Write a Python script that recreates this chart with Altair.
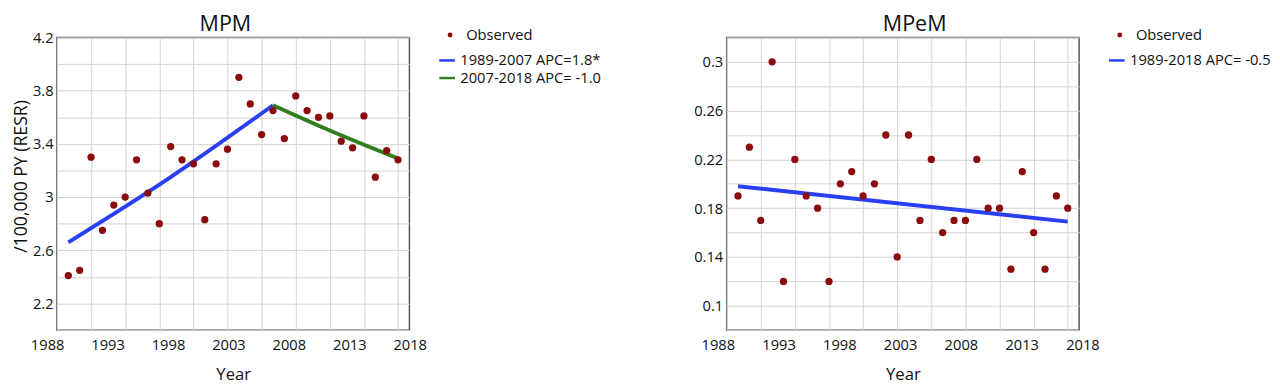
import altair as alt
import pandas as pd

# ---------------- data ----------------
years = list(range(1989, 2019))
mpm_observed = [2.41, 2.45, 3.30, 2.75, 2.94, 3.00, 3.28, 3.03, 2.80, 3.38,
                3.28, 3.25, 2.83, 3.25, 3.36, 3.90, 3.70, 3.47, 3.65, 3.44,
                3.76, 3.65, 3.60, 3.61, 3.42, 3.37, 3.61, 3.15, 3.35, 3.28]
mpem_observed = [0.19, 0.23, 0.17, 0.30, 0.12, 0.22, 0.19, 0.18, 0.12, 0.20,
                 0.21, 0.19, 0.20, 0.24, 0.14, 0.24, 0.17, 0.22, 0.16, 0.17,
                 0.17, 0.22, 0.18, 0.18, 0.13, 0.21, 0.16, 0.13, 0.19, 0.18]

mpm_seg_names = ["1989-2007 APC=1.8*", "2007-2018 APC= -1.0"]
mpm_seg1_years = [1989, 1998, 2007]
mpm_seg1_values = [2.66, 3.15, 3.69]
mpm_seg2_years = [2007, 2012, 2018]
mpm_seg2_values = [3.69, 3.50, 3.29]

mpem_seg_names = ["1989-2018 APC= -0.5"]
mpem_fit_years = [1989, 2018]
mpem_fit_values = [0.198, 0.169]

x_grid_years = list(range(1988, 2019, 3))
x_label_years = list(range(1988, 2019, 5))
x_axis_values = sorted(set(x_grid_years + x_label_years))
mpm_y_values = [2.0, 2.2, 2.4, 2.6, 2.8, 3.0, 3.2, 3.4, 3.6, 3.8, 4.0, 4.2]
mpem_y_values = [0.08, 0.10, 0.12, 0.14, 0.16, 0.18, 0.20, 0.22, 0.24, 0.26,
                 0.28, 0.30, 0.32]

RED = "#8B0A0C"
BLUE = "#2A3FF2"
GREEN = "#2F7D1C"
FONT = "Open Sans"

PLOT_H = 299

# ---------------- tables ----------------
mpm_pts = pd.DataFrame({"year": years, "value": mpm_observed, "series": "Observed"})
mpem_pts = pd.DataFrame({"year": years, "value": mpem_observed, "series": "Observed"})
mpm_lines = pd.concat([
    pd.DataFrame({"year": mpm_seg1_years, "value": mpm_seg1_values, "segment": mpm_seg_names[0]}),
    pd.DataFrame({"year": mpm_seg2_years, "value": mpm_seg2_values, "segment": mpm_seg_names[1]}),
])
mpem_lines = pd.DataFrame({"year": mpem_fit_years, "value": mpem_fit_values,
                           "segment": mpem_seg_names[0]})


def x_enc(offset_expr):
    return alt.X(
        "year:Q",
        scale=alt.Scale(domain=[1988, 2019], nice=False, zero=False),
        axis=alt.Axis(
            values=x_axis_values,
            format="d",
            labelExpr="(datum.value - 1988) % 5 == 0 ? datum.label : ''",
            labelOffset={"expr": offset_expr},
            labelFlush=False,
            gridOpacity={"condition": {"test": "(datum.value - 1988) % 3 != 0", "value": 0},
                         "value": 1},
            ticks=False,
            domain=False,
            title="Year",
            titleFontSize=17,
            labelPadding=8,
            titlePadding=14,
        ),
    )


def panel(pts, lines, y_values, y_domain, label_test, title, title_dx, y_title,
          seg_names, seg_colors, offset_expr):
    y = alt.Y(
        "value:Q",
        scale=alt.Scale(domain=y_domain, nice=False, zero=False),
        axis=alt.Axis(
            values=y_values,
            format="~g",
            labelExpr=label_test + " ? datum.label : ''",
            ticks=False,
            domain=False,
            title=y_title,
            titleFontSize=18,
            titleY=PLOT_H / 2 - 8,
            labelPadding=4,
            titlePadding=2,
        ),
    )
    x = x_enc(offset_expr)
    line_layer = alt.Chart(lines).mark_line(strokeWidth=4, interpolate="monotone").encode(
        x=x, y=y,
        stroke=alt.Stroke(
            "segment:N",
            scale=alt.Scale(domain=seg_names, range=seg_colors),
            legend=alt.Legend(title=None, orient="none", legendX=389, legendY=14,
                              symbolType="stroke", symbolSize=256, symbolStrokeWidth=2.5,
                              labelOffset=4, rowPadding=0),
        ),
    )
    pt_layer = alt.Chart(pts).mark_circle(size=55, opacity=1).encode(
        x=x, y=y,
        fill=alt.Fill(
            "series:N",
            scale=alt.Scale(domain=["Observed"], range=[RED]),
            legend=alt.Legend(title=None, orient="none", legendX=389, legendY=-10,
                              symbolType="circle", symbolSize=25, symbolOffset=5,
                              labelOffset=9),
        ),
    )
    return alt.layer(line_layer, pt_layer).resolve_scale(fill="independent", stroke="independent").properties(
        width=360, height=PLOT_H,
        title=alt.TitleParams(title, frame="group", anchor="middle", dx=title_dx,
                              fontSize=22, fontWeight="normal", offset=-8),
    )


left = panel(mpm_pts, mpm_lines, mpm_y_values, [2.0, 4.2],
             "round(datum.value * 10) % 4 == 2", "MPM", -8, "/100,000 PY (RESR)",
             mpm_seg_names, [BLUE, GREEN], "-10 + 0.73 * (datum.value - 1988)")
right = panel(mpem_pts, mpem_lines, mpem_y_values, [0.08, 0.32],
              "round(datum.value * 100) % 4 == 2", "MPeM", 12, "",
              mpem_seg_names, [BLUE], "-9 + 0.8 * (datum.value - 1988)")

chart = alt.hconcat(left, right, spacing=92).properties(
    padding={"left": 4, "top": 0, "right": 0, "bottom": 0}
).configure(font=FONT).configure_view(
    stroke="#555555", strokeWidth=1.5
).configure_axis(
    labelFont=FONT, titleFont=FONT, labelFontSize=15, titleFontSize=16,
    labelColor="#111111", titleColor="#111111", titleFontWeight="normal",
    gridColor="#d2d2d2", gridWidth=1,
).configure_legend(
    labelFont=FONT, labelFontSize=15, labelColor="#111111", padding=0,
).configure_title(font=FONT, color="#111111")

chart.save("out.html", embed_options={"renderer": "svg", "actions": False})
